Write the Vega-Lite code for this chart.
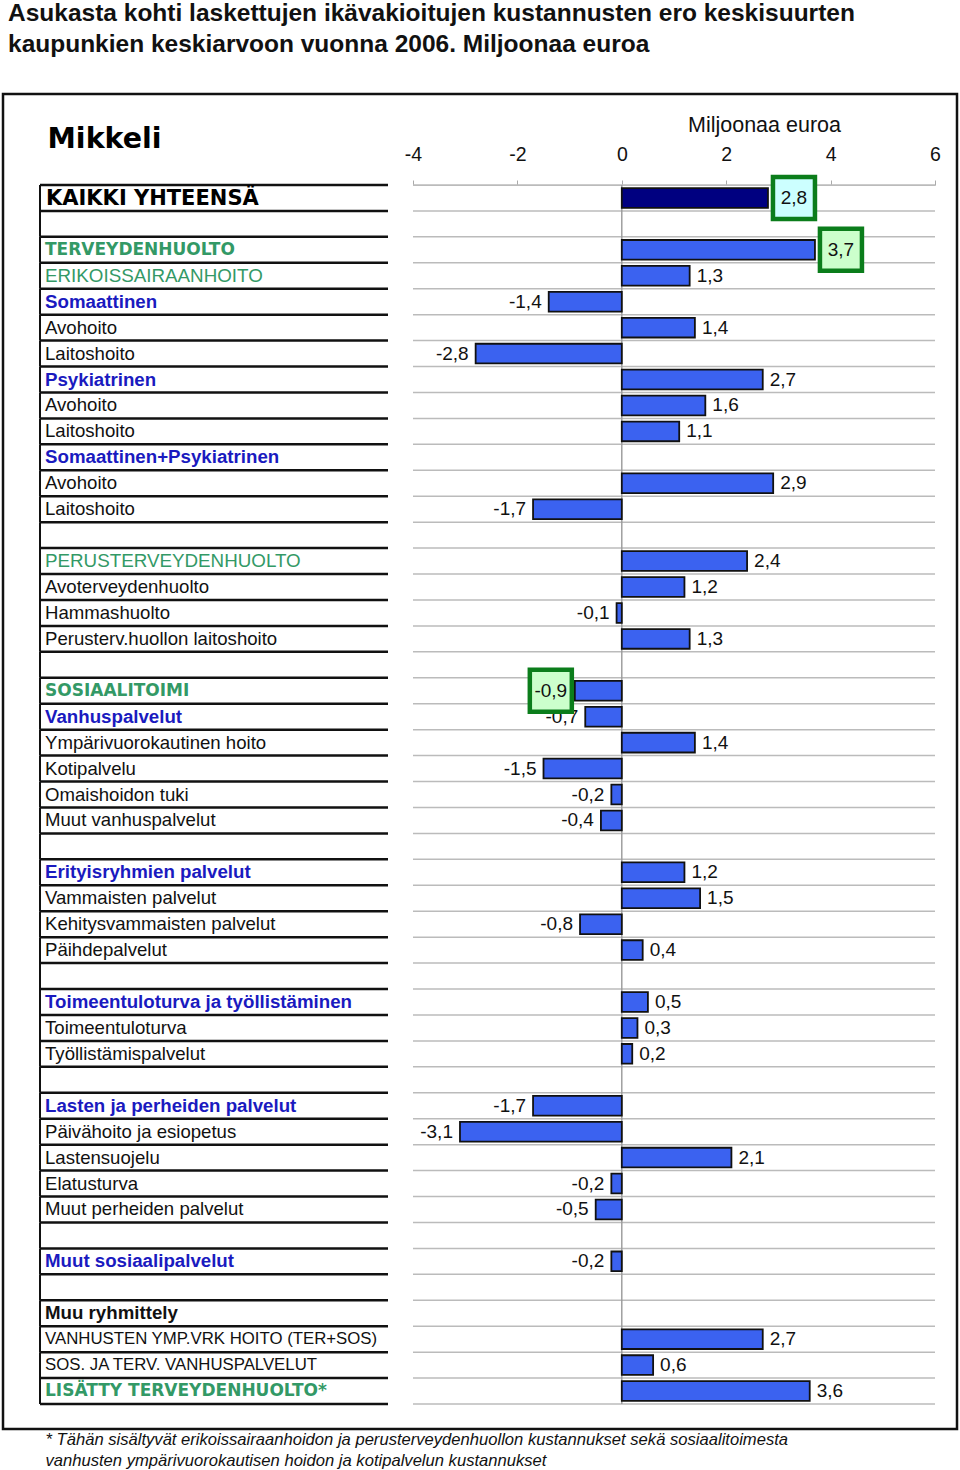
{
  "$schema": "https://vega.github.io/schema/vega-lite/v6.json",
  "width": 954,
  "height": 1335,
  "padding": {"left": 3, "right": 3, "top": 1, "bottom": 0},
  "background": "white",
  "title": {
    "text": ["Asukasta kohti laskettujen ikävakioitujen kustannusten ero keskisuurten", "kaupunkien keskiarvoon vuonna 2006. Miljoonaa euroa"],
    "anchor": "start",
    "font": "Liberation Sans",
    "fontSize": 24.5,
    "fontWeight": "bold",
    "color": "#111111",
    "dx": 5,
    "lineHeight": 31,
    "offset": 36.5
  },
  "data": {
    "values": [
      {"i": 1, "label": "KAIKKI YHTEENSÄ", "level": "total", "value": 2.8},
      {"i": 2, "label": "", "level": "blank", "value": null},
      {"i": 3, "label": "TERVEYDENHUOLTO", "level": "sector", "value": 3.7},
      {"i": 4, "label": "ERIKOISSAIRAANHOITO", "level": "subsector", "value": 1.3},
      {"i": 5, "label": "Somaattinen", "level": "group", "value": -1.4},
      {"i": 6, "label": "Avohoito", "level": "item", "value": 1.4},
      {"i": 7, "label": "Laitoshoito", "level": "item", "value": -2.8},
      {"i": 8, "label": "Psykiatrinen", "level": "group", "value": 2.7},
      {"i": 9, "label": "Avohoito", "level": "item", "value": 1.6},
      {"i": 10, "label": "Laitoshoito", "level": "item", "value": 1.1},
      {"i": 11, "label": "Somaattinen+Psykiatrinen", "level": "group", "value": null},
      {"i": 12, "label": "Avohoito", "level": "item", "value": 2.9},
      {"i": 13, "label": "Laitoshoito", "level": "item", "value": -1.7},
      {"i": 14, "label": "", "level": "blank", "value": null},
      {"i": 15, "label": "PERUSTERVEYDENHUOLTO", "level": "subsector", "value": 2.4},
      {"i": 16, "label": "Avoterveydenhuolto", "level": "item", "value": 1.2},
      {"i": 17, "label": "Hammashuolto", "level": "item", "value": -0.1},
      {"i": 18, "label": "Perusterv.huollon laitoshoito", "level": "item", "value": 1.3},
      {"i": 19, "label": "", "level": "blank", "value": null},
      {"i": 20, "label": "SOSIAALITOIMI", "level": "sector", "value": -0.9},
      {"i": 21, "label": "Vanhuspalvelut", "level": "group", "value": -0.7},
      {"i": 22, "label": "Ympärivuorokautinen hoito", "level": "item", "value": 1.4},
      {"i": 23, "label": "Kotipalvelu", "level": "item", "value": -1.5},
      {"i": 24, "label": "Omaishoidon tuki", "level": "item", "value": -0.2},
      {"i": 25, "label": "Muut vanhuspalvelut", "level": "item", "value": -0.4},
      {"i": 26, "label": "", "level": "blank", "value": null},
      {"i": 27, "label": "Erityisryhmien palvelut", "level": "group", "value": 1.2},
      {"i": 28, "label": "Vammaisten palvelut", "level": "item", "value": 1.5},
      {"i": 29, "label": "Kehitysvammaisten palvelut", "level": "item", "value": -0.8},
      {"i": 30, "label": "Päihdepalvelut", "level": "item", "value": 0.4},
      {"i": 31, "label": "", "level": "blank", "value": null},
      {"i": 32, "label": "Toimeentuloturva ja työllistäminen", "level": "group", "value": 0.5},
      {"i": 33, "label": "Toimeentuloturva", "level": "item", "value": 0.3},
      {"i": 34, "label": "Työllistämispalvelut", "level": "item", "value": 0.2},
      {"i": 35, "label": "", "level": "blank", "value": null},
      {"i": 36, "label": "Lasten ja perheiden palvelut", "level": "group", "value": -1.7},
      {"i": 37, "label": "Päivähoito ja esiopetus", "level": "item", "value": -3.1},
      {"i": 38, "label": "Lastensuojelu", "level": "item", "value": 2.1},
      {"i": 39, "label": "Elatusturva", "level": "item", "value": -0.2},
      {"i": 40, "label": "Muut perheiden palvelut", "level": "item", "value": -0.5},
      {"i": 41, "label": "", "level": "blank", "value": null},
      {"i": 42, "label": "Muut sosiaalipalvelut", "level": "group", "value": -0.2},
      {"i": 43, "label": "", "level": "blank", "value": null},
      {"i": 44, "label": "Muu ryhmittely", "level": "heading", "value": null},
      {"i": 45, "label": "VANHUSTEN YMP.VRK HOITO (TER+SOS)", "level": "other", "value": 2.7},
      {"i": 46, "label": "SOS. JA TERV. VANHUSPALVELUT", "level": "other", "value": 0.6},
      {"i": 47, "label": "LISÄTTY TERVEYDENHUOLTO*", "level": "added", "value": 3.6}
    ]
  },
  "config": {
    "locale": {"number": {"decimal": ",", "thousands": " ", "grouping": [3], "currency": ["", " €"], "minus": "-"}},
    "view": {"stroke": "#111111", "strokeWidth": 2.5},
    "font": "Liberation Sans",
    "axisY": {
      "labels": false, "ticks": false, "domain": false, "grid": false,
      "titleAngle": 0, "titleX": 44, "titleY": 44, "titleAlign": "left", "titleBaseline": "middle",
      "titleFont": "DejaVu Sans", "titleFontSize": 28.5, "titleFontWeight": "bold", "titleColor": "#000000"
    }
  },
  "resolve": {"scale": {"x": "independent"}, "axis": {"x": "independent"}},
  "encoding": {
    "y": {"field": "i", "type": "ordinal", "title": "Mikkeli", "scale": {"range": [91, 1310], "paddingInner": 0, "paddingOuter": 0}}
  },
  "layer": [
    {
      "layer": [
        {
          "mark": {"type": "rule", "stroke": "#111111", "strokeWidth": 2.5},
          "encoding": {
            "x": {"datum": 0, "type": "quantitative", "scale": {"domain": [0, 1], "range": [37, 385], "nice": false, "zero": false},
              "axis": {"orient": "bottom", "labels": false, "ticks": false, "domain": false, "grid": false,
                "title": ["* Tähän sisältyvät erikoissairaanhoidon ja perusterveydenhuollon kustannukset sekä sosiaalitoimesta", "vanhusten ympärivuorokautisen hoidon ja kotipalvelun kustannukset"],
                "titleFontStyle": "italic", "titleFontWeight": "normal", "titleFontSize": 16.6, "titleColor": "#111111",
                "titleX": 42, "titleAlign": "left", "titleAnchor": "start", "titlePadding": 2, "titleLineHeight": 21, "titleLimit": 1000, "titleBaseline": "top"}},
            "x2": {"datum": 1},
            "y": {"field": "i", "type": "ordinal", "title": "Mikkeli", "bandPosition": 0}
          }
        },
        {
          "transform": [{"filter": "datum.i === 47"}],
          "mark": {"type": "rule", "stroke": "#111111", "strokeWidth": 2.5},
          "encoding": {
            "x": {"datum": 0, "type": "quantitative"},
            "x2": {"datum": 1},
            "y": {"field": "i", "type": "ordinal", "title": "Mikkeli", "bandPosition": 1}
          }
        },
        {
          "mark": {"type": "bar", "stroke": "#111111", "strokeWidth": 2, "fill": "#111111"},
          "encoding": {
            "x": {"datum": 0, "type": "quantitative"},
            "x2": {"datum": 0}
          }
        },
        {
          "transform": [{"filter": "datum.level === 'total'"}],
          "mark": {"type": "text", "align": "left", "baseline": "middle", "dx": 6, "dy": 1.5, "font": "DejaVu Sans", "fontSize": 21, "fontWeight": "bold", "color": "#000000"},
          "encoding": {"x": {"datum": 0, "type": "quantitative"}, "text": {"field": "label"}}
        },
        {
          "transform": [{"filter": "datum.level === 'sector' || datum.level === 'added'"}],
          "mark": {"type": "text", "align": "left", "baseline": "middle", "dx": 5, "font": "DejaVu Sans", "fontSize": 17, "fontWeight": "bold", "color": "#339966"},
          "encoding": {"x": {"datum": 0, "type": "quantitative"}, "text": {"field": "label"}}
        },
        {
          "transform": [{"filter": "datum.level === 'subsector'"}],
          "mark": {"type": "text", "align": "left", "baseline": "middle", "dx": 5, "fontSize": 18.8, "color": "#339966"},
          "encoding": {"x": {"datum": 0, "type": "quantitative"}, "text": {"field": "label"}}
        },
        {
          "transform": [{"filter": "datum.level === 'group'"}],
          "mark": {"type": "text", "align": "left", "baseline": "middle", "dx": 5, "fontSize": 18.7, "fontWeight": "bold", "color": "#1a1abf"},
          "encoding": {"x": {"datum": 0, "type": "quantitative"}, "text": {"field": "label"}}
        },
        {
          "transform": [{"filter": "datum.level === 'item'"}],
          "mark": {"type": "text", "align": "left", "baseline": "middle", "dx": 5, "fontSize": 18.6, "color": "#111111"},
          "encoding": {"x": {"datum": 0, "type": "quantitative"}, "text": {"field": "label"}}
        },
        {
          "transform": [{"filter": "datum.level === 'heading'"}],
          "mark": {"type": "text", "align": "left", "baseline": "middle", "dx": 5, "fontSize": 18.7, "fontWeight": "bold", "color": "#111111"},
          "encoding": {"x": {"datum": 0, "type": "quantitative"}, "text": {"field": "label"}}
        },
        {
          "transform": [{"filter": "datum.level === 'other'"}],
          "mark": {"type": "text", "align": "left", "baseline": "middle", "dx": 5, "fontSize": 16.8, "color": "#111111"},
          "encoding": {"x": {"datum": 0, "type": "quantitative"}, "text": {"field": "label"}}
        }
      ]
    },
    {
      "layer": [
        {
          "mark": {"type": "rule", "stroke": "#bbbbbb", "strokeWidth": 1.5},
          "encoding": {
            "x": {"datum": -4, "type": "quantitative", "scale": {"domain": [-4, 6], "range": [410, 932], "nice": false, "zero": false},
              "axis": {"orient": "top", "values": [-4, -2, 0, 2, 4, 6], "format": "d", "offset": -91, "grid": false,
                "domain": true, "domainColor": "#bbbbbb", "ticks": true, "tickColor": "#aaaaaa", "tickSize": 5,
                "labelFontSize": 19.5, "labelColor": "#111111", "labelPadding": 16, "labelFlush": false,
                "title": "Miljoonaa euroa", "titleFontSize": 21.5, "titleFontWeight": "normal", "titleColor": "#111111",
                "titleX": 761, "titleAlign": "center", "titlePadding": 8}},
            "x2": {"datum": 6},
            "y": {"field": "i", "type": "ordinal", "title": "Mikkeli", "bandPosition": 0}
          }
        },
        {
          "transform": [{"filter": "datum.i === 47"}],
          "mark": {"type": "rule", "stroke": "#bbbbbb", "strokeWidth": 1.5},
          "encoding": {
            "x": {"datum": -4, "type": "quantitative"},
            "x2": {"datum": 6},
            "y": {"field": "i", "type": "ordinal", "title": "Mikkeli", "bandPosition": 1}
          }
        },
        {
          "mark": {"type": "bar", "stroke": "#999999", "strokeWidth": 1, "fill": "#999999"},
          "encoding": {
            "x": {"datum": 0, "type": "quantitative"},
            "x2": {"datum": 0}
          }
        },
        {
          "transform": [{"filter": "isValid(datum.value)"}],
          "mark": {"type": "bar", "height": {"band": 0.76}, "stroke": "#111111", "strokeWidth": 1.8},
          "encoding": {
            "x": {"field": "value", "type": "quantitative"},
            "fill": {"condition": {"test": "datum.level === 'total'", "value": "#000080"}, "value": "#3b62f0"}
          }
        },
        {
          "transform": [{"filter": "isValid(datum.value) && datum.value >= 0 && datum.level !== 'total' && datum.level !== 'sector'"}],
          "mark": {"type": "text", "align": "left", "baseline": "middle", "dx": 7, "fontSize": 19, "color": "#111111"},
          "encoding": {"x": {"field": "value", "type": "quantitative"}, "text": {"field": "value", "type": "quantitative", "format": ".1f"}}
        },
        {
          "transform": [{"filter": "isValid(datum.value) && datum.value < 0 && datum.level !== 'total' && datum.level !== 'sector'"}],
          "mark": {"type": "text", "align": "right", "baseline": "middle", "dx": -7, "fontSize": 19, "color": "#111111"},
          "encoding": {"x": {"field": "value", "type": "quantitative"}, "text": {"field": "value", "type": "quantitative", "format": ".1f"}}
        },
        {
          "transform": [{"filter": "(datum.level === 'total' || datum.level === 'sector') && datum.value >= 0"}],
          "mark": {"type": "point", "shape": "square", "filled": true, "size": 1764, "stroke": "#0b7d1b", "strokeWidth": 4.5, "opacity": 1, "xOffset": 26},
          "encoding": {
            "x": {"field": "value", "type": "quantitative"},
            "fill": {"condition": {"test": "datum.level === 'total'", "value": "#ccffff"}, "value": "#ccffcc"}
          }
        },
        {
          "transform": [{"filter": "(datum.level === 'total' || datum.level === 'sector') && datum.value < 0"}],
          "mark": {"type": "point", "shape": "square", "filled": true, "size": 1764, "stroke": "#0b7d1b", "strokeWidth": 4.5, "opacity": 1, "xOffset": -24},
          "encoding": {
            "x": {"field": "value", "type": "quantitative"},
            "fill": {"condition": {"test": "datum.level === 'total'", "value": "#ccffff"}, "value": "#ccffcc"}
          }
        },
        {
          "transform": [{"filter": "(datum.level === 'total' || datum.level === 'sector') && datum.value >= 0"}],
          "mark": {"type": "text", "align": "center", "baseline": "middle", "dx": 26, "fontSize": 19, "color": "#111111"},
          "encoding": {"x": {"field": "value", "type": "quantitative"}, "text": {"field": "value", "type": "quantitative", "format": ".1f"}}
        },
        {
          "transform": [{"filter": "(datum.level === 'total' || datum.level === 'sector') && datum.value < 0"}],
          "mark": {"type": "text", "align": "center", "baseline": "middle", "dx": -24, "fontSize": 19, "color": "#111111"},
          "encoding": {"x": {"field": "value", "type": "quantitative"}, "text": {"field": "value", "type": "quantitative", "format": ".1f"}}
        }
      ]
    }
  ]
}
